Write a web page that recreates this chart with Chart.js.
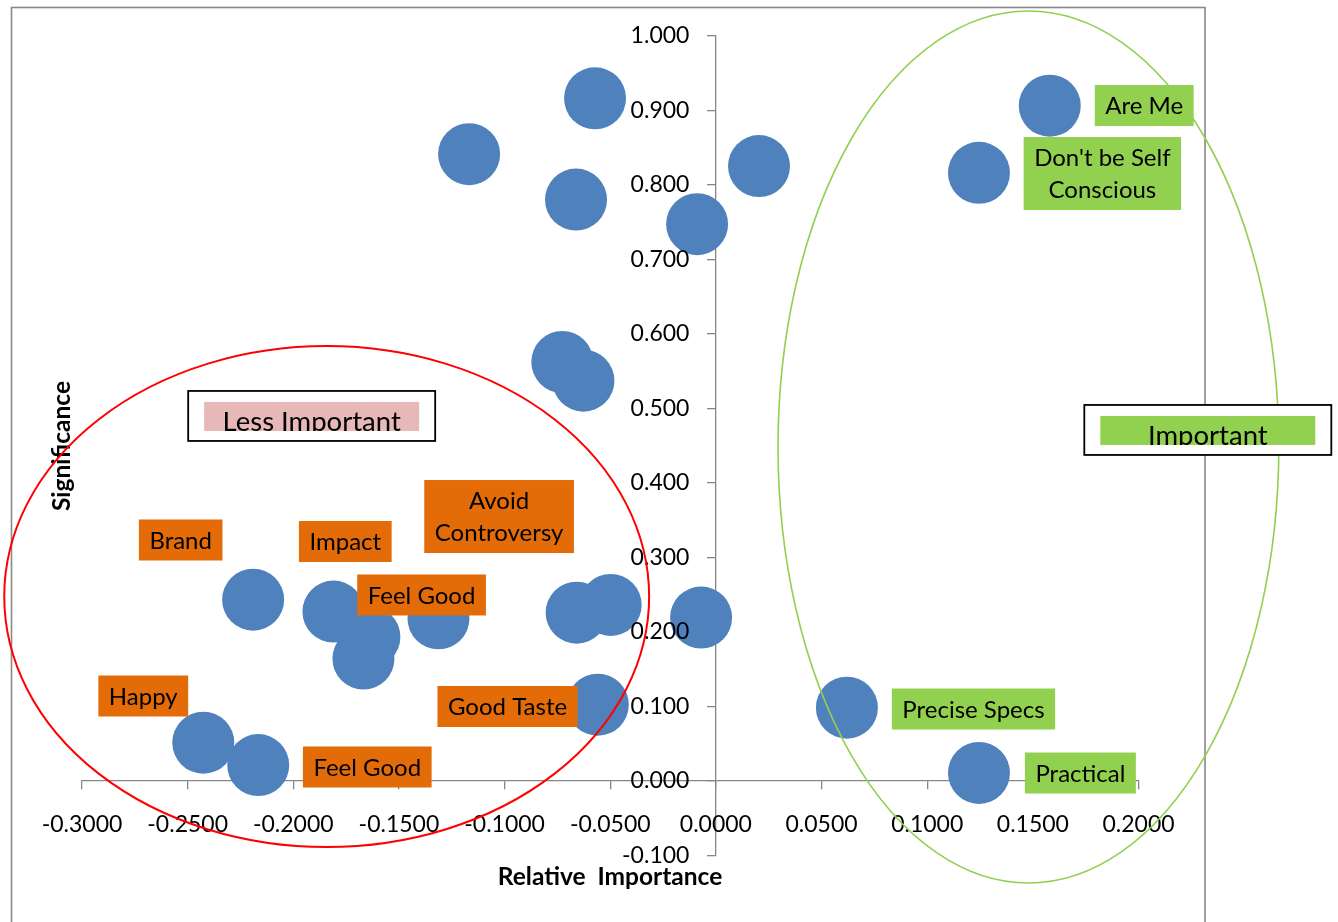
<!DOCTYPE html>
<html>
<head>
<meta charset="utf-8">
<title>Relative Importance vs Significance</title>
<script src="https://cdn.jsdelivr.net/npm/chart.js@4/dist/chart.umd.min.js"></script>
<style>
  html, body { margin: 0; padding: 0; background: #ffffff; }
  canvas { display: block; }
</style>
</head>
<body>
<canvas id="chart" width="1338" height="922"></canvas>
<script>
// ---- data -------------------------------------------------------------
const relativeImportance = [
  -0.0572, -0.1168, -0.0662, -0.0089, 0.0204, 0.1580, 0.1245,
  -0.0727, -0.0627,
  -0.2190, -0.1810, -0.1640, -0.1668, -0.1313, -0.0659, -0.0498, -0.0070,
  -0.0559, -0.2426, -0.2166, 0.0620, 0.1245
];
const significance = [
  0.916, 0.841, 0.780, 0.747, 0.825, 0.906, 0.816,
  0.562, 0.537,
  0.243, 0.227, 0.193, 0.164, 0.218, 0.2255, 0.236, 0.219,
  0.102, 0.051, 0.021, 0.098, 0.0104
];

// axis ranges and tick steps
const xRange = [-0.3, 0.2];
const xStep = 0.05;
const yRange = [-0.1, 1.0];
const yStep = 0.1;

// callout labels (text lines) and the groups they belong to
const calloutText = [
  ['Brand'], ['Impact'], ['Avoid', 'Controversy'], ['Feel Good'], ['Happy'],
  ['Good Taste'], ['Feel Good'],
  ['Are Me'], ["Don't be Self", 'Conscious'], ['Precise Specs'], ['Practical']
];
const calloutGroup = [
  'less', 'less', 'less', 'less', 'less', 'less', 'less',
  'more', 'more', 'more', 'more'
];
// callout anchors (centre of each box, in axis units)
const calloutAnchorX = [-0.2533, -0.1754, -0.1026, -0.1393, -0.2710, -0.0986, -0.1650, 0.2027, 0.1829, 0.1219, 0.1725];
const calloutAnchorY = [0.3231, 0.3211, 0.3546, 0.2493, 0.1137, 0.0996, 0.0184, 0.9063, 0.8150, 0.0962, 0.0103];

// group headings
const groupTitle = ['Less Important', 'Important'];
const groupTitleAnchorX = [-0.1913, 0.2328];
const groupTitleAnchorY = [0.4896, 0.4708];

// group outlines (centre and radii, in axis units)
const outlineCx = [-0.1842, 0.1479];
const outlineCy = [0.2472, 0.4479];
const outlineRx = [0.1526, 0.1185];
const outlineRy = [0.3362, 0.5852];

// ---- styling ----------------------------------------------------------
const FONT = 'Lato, "Open Sans", "DejaVu Sans", sans-serif';
const AXIS_GREY = '#868686';
const POINT_BLUE = '#4F81BD';
const ORANGE = '#E36C09';
const GREEN = '#92D050';
const PINK = '#E6B8B7';
const RED = '#FF0000';

const groupFill = { less: ORANGE, more: GREEN };
const groupTitleFill = [PINK, GREEN];
const outlineColor = [RED, GREEN];
const outlineWidth = [2, 1.6];

// gap between the value axis line and the right edge of its labels
const Y_LABEL_GAP = 26.5;

const points = relativeImportance.map((x, i) => ({ x, y: significance[i] }));

// ---- overlay: frame, axis titles, outlines, callouts ------------------
const overlay = {
  id: 'overlay',
  beforeDraw(chart) {
    const ctx = chart.ctx;
    ctx.save();
    ctx.strokeStyle = '#898989';
    ctx.lineWidth = 1.6;
    ctx.strokeRect(11.5, 7.5, 1193.5, 940);
    ctx.restore();

    // the crossing value axis puts its labels flush against the line;
    // move them left so they clear the tick marks
    const ys = chart.scales.y;
    const items = ys.getLabelItems(chart.chartArea);
    if (!items._shifted) {
      items.forEach(it => { it.options.translation[0] -= Y_LABEL_GAP; });
      items._shifted = true;
    }
  },
  beforeDatasetsDraw(chart) {
    const ctx = chart.ctx;
    ctx.save();
    ctx.fillStyle = '#000';
    ctx.font = 'bold 24.5px ' + FONT;
    ctx.textAlign = 'center';
    ctx.textBaseline = 'middle';
    ctx.fillText('Relative  Importance', 610, 877);
    ctx.translate(62, 446);
    ctx.rotate(-Math.PI / 2);
    ctx.fillText('Significance', 0, 0);
    ctx.restore();
  },
  afterDraw(chart) {
    const ctx = chart.ctx;
    const xs = chart.scales.x, ys = chart.scales.y;
    const pxPerX = Math.abs(xs.getPixelForValue(1) - xs.getPixelForValue(0));
    const pxPerY = Math.abs(ys.getPixelForValue(1) - ys.getPixelForValue(0));

    // group outlines
    ctx.save();
    for (let i = 0; i < outlineCx.length; i++) {
      ctx.beginPath();
      ctx.ellipse(xs.getPixelForValue(outlineCx[i]), ys.getPixelForValue(outlineCy[i]),
        outlineRx[i] * pxPerX, outlineRy[i] * pxPerY, 0, 0, Math.PI * 2);
      ctx.strokeStyle = outlineColor[i];
      ctx.lineWidth = outlineWidth[i];
      ctx.stroke();
    }
    ctx.restore();

    // callout boxes
    ctx.save();
    ctx.font = '24px ' + FONT;
    ctx.textAlign = 'center';
    ctx.textBaseline = 'middle';
    const lineH = 32, padX = 10.5, padY = 4.5;
    calloutText.forEach((lines, i) => {
      const cx = xs.getPixelForValue(calloutAnchorX[i]);
      const cy = ys.getPixelForValue(calloutAnchorY[i]);
      const w = Math.max(...lines.map(t => ctx.measureText(t).width)) + padX * 2;
      const h = lines.length * lineH + padY * 2;
      ctx.fillStyle = groupFill[calloutGroup[i]];
      ctx.fillRect(cx - w / 2, cy - h / 2, w, h);
      ctx.fillStyle = '#000';
      lines.forEach((t, k) => {
        ctx.fillText(t, cx, cy - h / 2 + padY + lineH * (k + 0.5) + 1);
      });
    });
    ctx.restore();

    // group headings: outlined box with a filled band clipping the text
    ctx.save();
    ctx.font = '27.5px ' + FONT;
    ctx.textAlign = 'center';
    ctx.textBaseline = 'alphabetic';
    groupTitle.forEach((t, i) => {
      const cx = xs.getPixelForValue(groupTitleAnchorX[i]);
      const cy = ys.getPixelForValue(groupTitleAnchorY[i]);
      const bw = 247, bh = 50, fw = 215, fh = 29;
      ctx.fillStyle = '#fff';
      ctx.fillRect(cx - bw / 2, cy - bh / 2, bw, bh);
      ctx.strokeStyle = '#000';
      ctx.lineWidth = 1.8;
      ctx.strokeRect(cx - bw / 2, cy - bh / 2, bw, bh);
      const fx = cx - fw / 2, fy = cy - bh / 2 + 11;
      ctx.fillStyle = groupTitleFill[i];
      ctx.fillRect(fx, fy, fw, fh);
      ctx.save();
      ctx.beginPath();
      ctx.rect(fx, fy, fw, fh);
      ctx.clip();
      ctx.fillStyle = '#000';
      ctx.fillText(t, cx, fy + fh + 0.5);
      ctx.restore();
    });
    ctx.restore();
  }
};

// ---- chart ------------------------------------------------------------
const tickFont = { family: FONT, size: 23 };

new Chart(document.getElementById('chart'), {
  type: 'scatter',
  data: {
    datasets: [{
      data: points,
      backgroundColor: POINT_BLUE,
      borderWidth: 0,
      pointRadius: 31,
      pointHoverRadius: 31
    }]
  },
  options: {
    responsive: false,
    animation: false,
    events: [],
    layout: { padding: { left: 82, right: 199.5, top: 35.7, bottom: 66.8 } },
    plugins: { legend: { display: false }, tooltip: { enabled: false } },
    scales: {
      x: {
        type: 'linear',
        min: xRange[0], max: xRange[1],
        position: { y: 0 },
        afterFit: s => { s.height = 0; },
        border: { display: true, color: AXIS_GREY, width: 1.3 },
        grid: { display: true, drawOnChartArea: false, drawTicks: true, tickLength: 8, color: AXIS_GREY, lineWidth: 1.3 },
        ticks: {
          stepSize: xStep, autoSkip: false, maxRotation: 0, minRotation: 0,
          padding: 22, color: '#000', font: tickFont, z: 1,
          callback: v => Number(v).toFixed(4)
        }
      },
      y: {
        type: 'linear',
        min: yRange[0], max: yRange[1],
        position: { x: 0 },
        afterFit: s => { s.width = 0; },
        border: { display: true, color: AXIS_GREY, width: 1.3 },
        grid: { display: true, drawOnChartArea: false, drawTicks: true, tickLength: 8, color: AXIS_GREY, lineWidth: 1.3 },
        ticks: {
          stepSize: yStep, autoSkip: false,
          padding: 18, color: '#000', font: tickFont, z: 1,
          callback: v => Number(v).toFixed(3)
        }
      }
    }
  },
  plugins: [overlay]
});
</script>
</body>
</html>
